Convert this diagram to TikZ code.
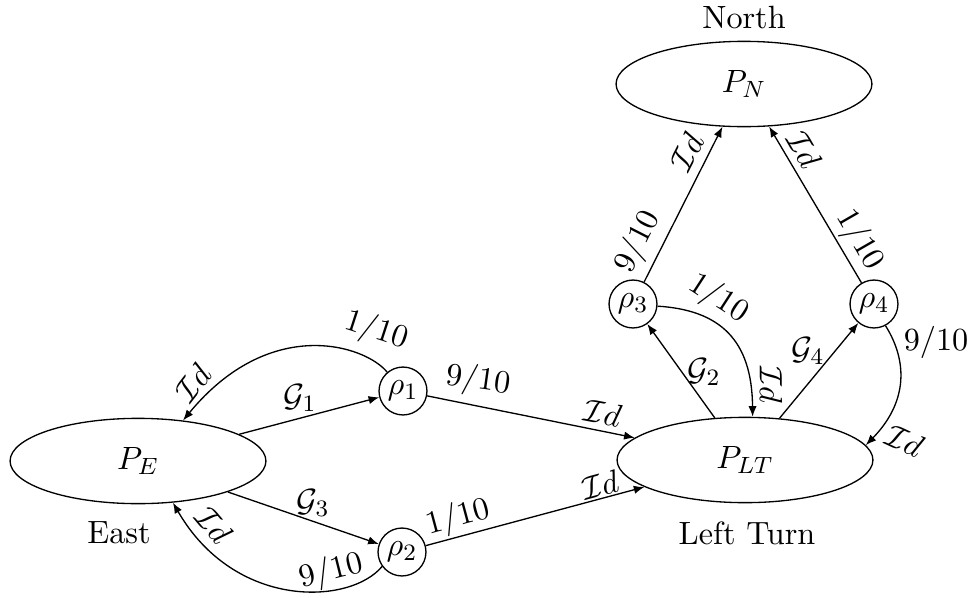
\documentclass[tikz,border=0pt]{standalone}
\usetikzlibrary{shapes.geometric,arrows.meta}
\begin{document}
\begin{tikzpicture}[x=0.34pt,y=-0.34pt,
  every node/.style={font=\fontsize{10.95}{13}\selectfont},
  state/.style={ellipse,draw,line width=0.45pt,minimum width=87pt,minimum height=29pt,inner sep=0pt},
  choice/.style={circle,draw,line width=0.45pt,minimum size=16.3pt,inner sep=0pt},
  lab/.style={inner sep=0pt},
  edge/.style={line width=0.45pt,-{Latex[length=3.6pt,width=2.8pt]}}]
\useasboundingbox (0,0) rectangle (974,597);

% places
\node[state] (PE)  at (138,461) {$P_E$};
\node[state] (PLT) at (745,460) {$P_{LT}$};
\node[state] (PN)  at (744,84)  {$P_N$};

\node[lab] (tE)  at (119,533) {East};
\node[lab] (tLT) at (747,533) {Left Turn};
\node[lab] (tN)  at (744,17)  {North};

% probabilistic choices
\node[choice] (r1) at (403,391) {$\rho_1$};
\node[choice] (r2) at (402,552) {$\rho_2$};
\node[choice] (r3) at (633,304) {$\rho_3$};
\node[choice] (r4) at (874,304) {$\rho_4$};

% guards into the choices
\draw[edge] (PE) -- (r1);
\draw[edge] (PE) -- (r2);
\draw[edge] (PLT) -- (r3);
\draw[edge] (PLT) -- (r4);

% straight identity branches
\draw[edge] (r1) -- (PLT);
\draw[edge] (r2) -- (PLT);
\draw[edge] (r3) -- (PN);
\draw[edge] (r4) -- (PN);

% curved identity branches
\draw[edge] (r1.130) .. controls (365,345) and (270,315) .. (PE.42);
\draw[edge] (r2.216) .. controls (350,605) and (235,610) .. (PE.-50);
\draw[edge] (r3.-5) .. controls (720,310) and (752,340) .. (PLT.80);
\draw[edge] (r4.-62) .. controls (910,365) and (905,405) .. (PLT.7);

% guard labels
\node[lab] (g1) at (300,398) {$\mathcal{G}_1$};
\node[lab] (g3) at (313,503) {$\mathcal{G}_3$};
\node[lab] (g2) at (704,372) {$\mathcal{G}_2$};
\node[lab] (g4) at (808,351) {$\mathcal{G}_4$};

% probability and identity labels
\node[lab,rotate=-18] (a1) at (376,331) {$1/10$};
\node[lab,rotate=52]  (a2) at (193,383) {$\mathcal{I}d$};
\node[lab,rotate=-8]  (a3) at (478,381) {$9/10$};
\node[lab,rotate=-11] (a4) at (603,413) {$\mathcal{I}d$};
\node[lab,rotate=15]  (a5) at (458,518) {$1/10$};
\node[lab,rotate=15]  (a6) at (600,485) {$\mathcal{I}d$};
\node[lab,rotate=14]  (a7) at (331,572) {$9/10$};
\node[lab,rotate=-50] (a8) at (214,525) {$\mathcal{I}d$};
\node[lab,rotate=-33] (a9) at (718,299) {$1/10$};
\node[lab,rotate=-90] (a10) at (771,385) {$\mathcal{I}d$};
\node[lab]            (a11) at (936,342) {$9/10$};
\node[lab,rotate=-25] (a12) at (905,441) {$\mathcal{I}d$};
\node[lab,rotate=63]  (a13) at (638,242) {$9/10$};
\node[lab,rotate=63]  (a14) at (687,152) {$\mathcal{I}d$};
\node[lab,rotate=-60] (a15) at (859,240) {$1/10$};
\node[lab,rotate=-60] (a16) at (804,150) {$\mathcal{I}d$};
\end{tikzpicture}
\end{document}
